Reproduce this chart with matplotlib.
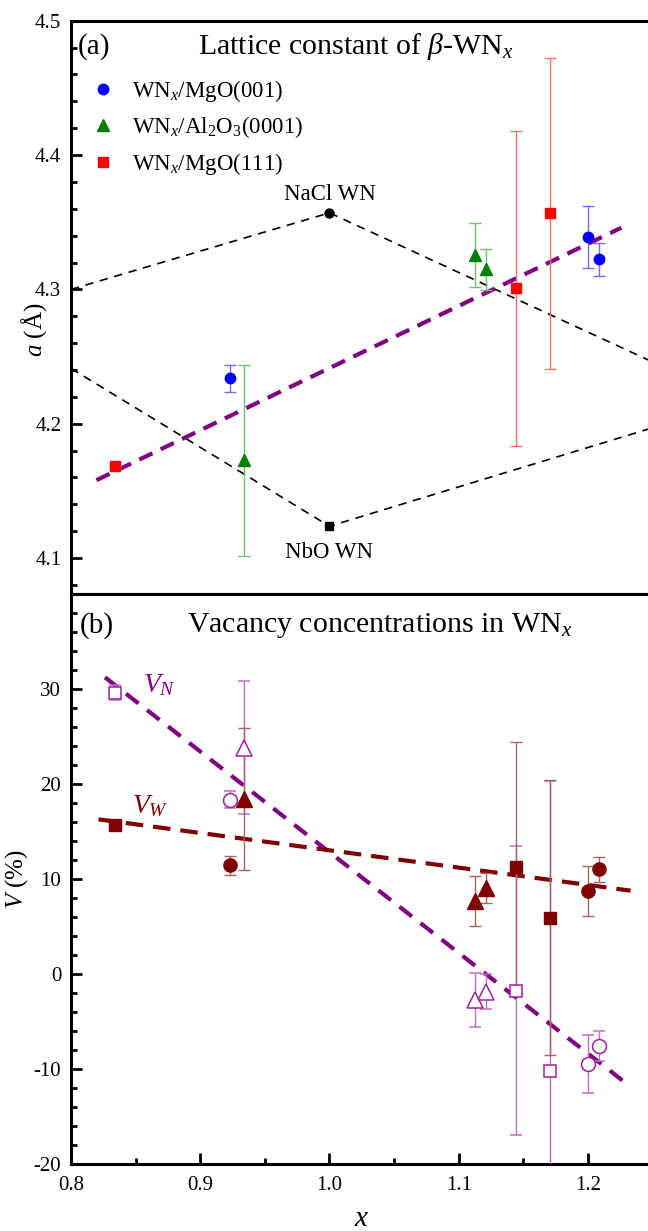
import matplotlib
matplotlib.use("Agg")
import matplotlib.pyplot as plt
from matplotlib.ticker import MultipleLocator, FormatStrFormatter, FixedLocator
from matplotlib.lines import Line2D

plt.rcParams['font.family'] = ['Liberation Serif', 'DejaVu Serif']
plt.rcParams['mathtext.fontset'] = 'custom'
plt.rcParams['mathtext.rm'] = 'Liberation Serif'
plt.rcParams['mathtext.it'] = 'Liberation Serif:italic'
plt.rcParams['mathtext.bf'] = 'Liberation Serif:bold'

# ---------------- data: panel (a) lattice constant ----------------
x_mgo001 = [0.9229, 1.2000, 1.2083]
a_mgo001 = [4.2337, 4.3392, 4.3223]
e_mgo001 = [0.010, 0.023, 0.012]

x_al2o3 = [0.9342, 1.1123, 1.1213]
a_al2o3 = [4.1729, 4.3255, 4.3149]
e_al2o3 = [0.071, 0.024, 0.015]

x_mgo111 = [0.8344, 1.1446, 1.1709]
a_mgo111 = [4.1684, 4.3007, 4.3566]
e_mgo111 = [0.0, 0.117, 0.116]

nacl_x = [0.80, 1.00, 1.25]
nacl_a = [4.300, 4.357, 4.246]
nbo_x = [0.80, 1.00, 1.25]
nbo_a = [4.2412, 4.1237, 4.197]

fit_a_x = [0.8197, 1.2258]
fit_a_y = [4.158, 4.3459]

# ---------------- data: panel (b) vacancy concentrations ----------------
# open (V_N) symbols
vn_circ_x = [0.9229, 1.2000, 1.2083]
vn_circ = [18.3, -9.5, -7.6]
vn_circ_e = [0.9, 3.05, 1.6]
vn_tri_x = [0.9342, 1.1123, 1.1213]
vn_tri = [23.8, -2.8, -1.9]
vn_tri_e = [7.0, 2.85, 1.85]
vn_sq_x = [0.8344, 1.1446, 1.1709]
vn_sq = [29.6, -1.8, -10.2]
vn_sq_e = [0.8, 15.2, 30.5]
# filled (V_W) symbols
vw_circ = [11.4, 8.7, 11.0]
vw_circ_e = [1.0, 2.6, 1.3]
vw_tri = [18.4, 7.65, 9.05]
vw_tri_e = [7.5, 2.6, 1.6]
vw_sq = [15.65, 11.2, 5.9]
vw_sq_e = [0.3, 13.2, 14.5]

vn_line_x = [0.8263, 1.2315]
vn_line_y = [31.2, -11.75]
vw_line_x = [0.8213, 1.2330]
vw_line_y = [16.25, 8.74]

a_ticks = [4.1, 4.2, 4.3, 4.4, 4.5]
v_ticks = [-20, -10, 0, 10, 20, 30]
x_ticks = [0.8, 0.9, 1.0, 1.1, 1.2]

# ---------------- figure ----------------
W, H = 648, 1231
fig = plt.figure(figsize=(W / 100, H / 100), dpi=100)

def px_box(x0, y0, x1, y1):
    return [x0 / W, 1 - y1 / H, (x1 - x0) / W, (y1 - y0) / H]

ax1 = fig.add_axes(px_box(71, 20.7, 652.6, 593.7))
ax2 = fig.add_axes(px_box(71, 593.7, 652.6, 1163.7))

for ax in (ax1, ax2):
    for s in ax.spines.values():
        s.set_linewidth(2.2)
    ax.set_xlim(0.8, 1.25)

ax1.set_ylim(4.0735, 4.5)
ax2.set_ylim(-20, 40)

# ---- panel (a) ----
blk = dict(color='black', lw=1.2, ls=(0, (5, 4)), zorder=2)
ax1.plot(nacl_x, nacl_a, **blk)
ax1.plot(nbo_x, nbo_a, **blk)
ax1.plot([nacl_x[1]], [nacl_a[1]], 'o', color='black', ms=6.5, zorder=4)
ax1.plot([nbo_x[1]], [nbo_a[1]], 's', color='black', ms=6, zorder=4)
ax1.text(nacl_x[1], nacl_a[1] + 0.0055, 'NaCl WN', ha='center', va='bottom', fontsize=16.5)
ax1.text(nbo_x[1], nbo_a[1] - 0.012, 'NbO WN', ha='center', va='top', fontsize=16.5)

ax1.plot(fit_a_x, fit_a_y, color='#800080', lw=3, ls=(0, (3.5, 2.2)), zorder=3)

eb = dict(ls='none', elinewidth=1, capsize=4, capthick=1, zorder=5)
ax1.errorbar(x_mgo001, a_mgo001, yerr=e_mgo001, fmt='o', color='#0000ff', ms=7.5,
             ecolor='#6f6fff', **eb)
ax1.errorbar(x_al2o3, a_al2o3, yerr=e_al2o3, fmt='^', color='#007f00', ms=8.5,
             ecolor='#6fbf6f', **eb)
ax1.errorbar(x_mgo111, a_mgo111, yerr=e_mgo111, fmt='s', color='#ff0000', ms=7,
             ecolor='#ff6f6f', **eb)

handles = [
    Line2D([], [], ls='none', marker='o', color='#0000ff', ms=7.5),
    Line2D([], [], ls='none', marker='^', color='#007f00', ms=8.5),
    Line2D([], [], ls='none', marker='s', color='#ff0000', ms=7),
]
labels = ['WN$_x$/MgO(001)', 'WN$_x$/Al$_2$O$_3$(0001)', 'WN$_x$/MgO(111)']
ax1.legend(handles, labels, loc='upper left', bbox_to_anchor=(0.036, 0.90),
           frameon=False, fontsize=16.5, handlelength=1.0, handletextpad=0.75,
           labelspacing=0.45, borderpad=0, borderaxespad=0)

ax1.text(0.012, 0.955, '(a)', transform=ax1.transAxes, fontsize=21, va='center', ha='left')
ax1.text(0.49, 0.955, r'Lattice constant of $\beta$-WN$_x$', transform=ax1.transAxes,
         fontsize=21.5, va='center', ha='center')

ax1.yaxis.set_major_locator(FixedLocator(a_ticks))
ax1.yaxis.set_minor_locator(MultipleLocator(0.02))
ax1.yaxis.set_major_formatter(FormatStrFormatter('%.1f'))
ax1.set_xticks([])
ax1.tick_params(axis='y', which='major', direction='in', length=8, width=2, labelsize=15, pad=7)
ax1.tick_params(axis='y', which='minor', direction='in', length=4.5, width=2)
ax1.set_ylabel(r'$a$ (Å)', fontsize=18)
ax1.yaxis.set_label_coords(-0.037, 0.46)

# ---- panel (b) ----
ax2.plot(vn_line_x, vn_line_y, color='#800080', lw=3, ls=(0, (3.8, 2.6)), zorder=3)
ax2.plot(vw_line_x, vw_line_y, color='#800000', lw=3, ls=(0, (4.2, 2.4)), zorder=3)

pur = '#a020a0'
pur_e = '#c070c0'
brn = '#800000'
brn_e = '#b06060'
ax2.errorbar(vn_circ_x, vn_circ, yerr=vn_circ_e, fmt='o', mfc='white', mec=pur, mew=1.1,
             ms=10, ecolor=pur_e, **eb)
ax2.errorbar(vn_tri_x, vn_tri, yerr=vn_tri_e, fmt='^', mfc='white', mec=pur, mew=1.1,
             ms=11, ecolor=pur_e, **eb)
ax2.errorbar(vn_sq_x, vn_sq, yerr=vn_sq_e, fmt='s', mfc='white', mec=pur, mew=1.1,
             ms=8.5, ecolor=pur_e, **eb)
ax2.errorbar(vn_circ_x, vw_circ, yerr=vw_circ_e, fmt='o', color=brn, ms=9.5,
             ecolor=brn_e, **eb)
ax2.errorbar(vn_tri_x, vw_tri, yerr=vw_tri_e, fmt='^', color=brn, ms=11,
             ecolor=brn_e, **eb)
ax2.errorbar(vn_sq_x, vw_sq, yerr=vw_sq_e, fmt='s', color=brn, ms=8.5,
             ecolor=brn_e, **eb)

ax2.text(0.8685, 30.4, r'$V_N$', color='#800080', fontsize=20, ha='center', va='center')
ax2.text(0.8615, 17.6, r'$V_W$', color='#800000', fontsize=20, ha='center', va='center')

ax2.text(0.015, 0.945, '(b)', transform=ax2.transAxes, fontsize=21, va='center', ha='left')
ax2.text(0.53, 0.945, r'Vacancy concentrations in WN$_x$', transform=ax2.transAxes,
         fontsize=21.5, va='center', ha='center')

ax2.yaxis.set_major_locator(FixedLocator(v_ticks))
ax2.yaxis.set_minor_locator(MultipleLocator(2))
ax2.xaxis.set_major_locator(FixedLocator(x_ticks))
ax2.xaxis.set_minor_locator(MultipleLocator(0.05))
ax2.xaxis.set_major_formatter(FormatStrFormatter('%.1f'))
ax2.yaxis.set_major_formatter(FormatStrFormatter('%d'))
ax2.tick_params(axis='both', which='major', direction='in', length=8, width=2, labelsize=15)
ax2.tick_params(axis='y', which='major', pad=7)
ax2.tick_params(axis='x', which='major', pad=9)
ax2.tick_params(axis='both', which='minor', direction='in', length=4, width=2)
ax2.set_ylabel(r'$V$ (%)', fontsize=18)
ax2.yaxis.set_label_coords(-0.07, 0.5)
ax2.set_xlabel(r'$x$', fontsize=21)
ax2.xaxis.label.set_va('center')
ax2.xaxis.set_label_coords(0.5, -0.097)

fig.savefig('out.png', dpi=100)
